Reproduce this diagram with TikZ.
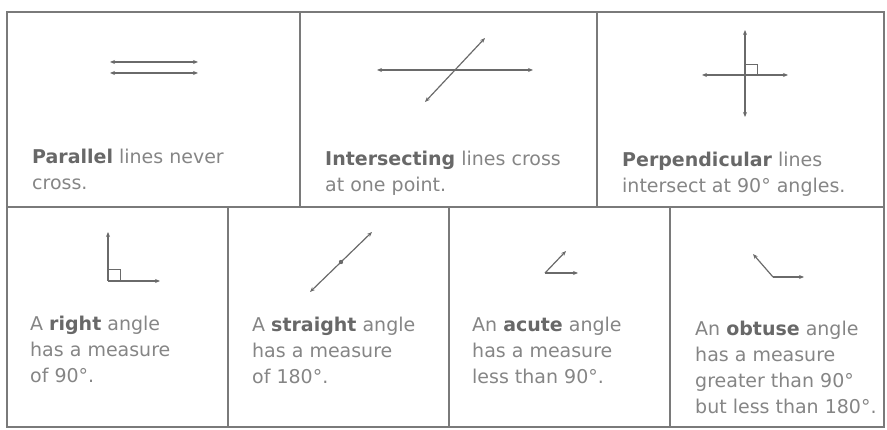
\documentclass[tikz,border=0pt]{standalone}
\usepackage{fontspec}
\setmainfont{DejaVu Sans}
\usepackage{xcolor}
\usetikzlibrary{arrows.meta}

\definecolor{rulegrey}{HTML}{7A7A7A}
\definecolor{inkgrey}{HTML}{6A6A6A}
\definecolor{txtgrey}{HTML}{858585}
\definecolor{keygrey}{HTML}{686868}
\newcommand{\kw}[1]{{\bfseries\color{keygrey}#1}}

\begin{document}
\begin{tikzpicture}[
        x=1pt, y=-1pt,
        frame/.style={draw=rulegrey, line width=1.4pt},
        ray/.style={draw=inkgrey, line width=1.2pt, -{Stealth[length=5pt,width=4pt]}},
        twoway/.style={draw=inkgrey, line width=1.2pt, {Stealth[length=5pt,width=4pt]}-{Stealth[length=5pt,width=4pt]}},
        anglemark/.style={draw=inkgrey, line width=0.8pt},
        caption/.style={anchor=north west, inner sep=0pt, align=left, text=txtgrey,
                        font={\fontsize{19}{26}\selectfont}}
    ]
    \useasboundingbox (0,0) rectangle (887,430);

    % ---- Frame ----
    \draw[frame] (7,12) rectangle (884,427);
    \draw[frame] (7,207) -- (884,207);
    \draw[frame] (300,12) -- (300,207);
    \draw[frame] (597,12) -- (597,207);
    \draw[frame] (228,207) -- (228,427);
    \draw[frame] (449,207) -- (449,427);
    \draw[frame] (670,207) -- (670,427);

    % ---- Parallel ----
    \draw[twoway] (110,62) -- (198,62);
    \draw[twoway] (110,73) -- (198,73);
    \node[caption] (partext) at (32,149) {\kw{Parallel} lines never\\cross.};

    % ---- Intersecting ----
    \coordinate (isleft) at (377,70);
    \coordinate (isright) at (533,70);
    \coordinate (islow) at (425,102);
    \coordinate (ishigh) at (485,38);
    \draw[twoway] (isleft) -- (isright);
    \draw[twoway] (islow) -- (ishigh);
    \node[caption] (intext) at (325,151) {\kw{Intersecting} lines cross\\at one point.};

    % ---- Perpendicular ----
    \coordinate (pcross) at (745,75);
    \draw[twoway] (702,75) -- (788,75);
    \draw[twoway] (745,30) -- (745,117);
    \draw[anglemark] (745,64) -- (757,64) -- (757,75);
    \node[caption] (perptext) at (622,152) {\kw{Perpendicular} lines\\intersect at 90° angles.};

    % ---- Right angle ----
    \coordinate (rvertex) at (108,281);
    \draw[ray] (rvertex) -- (108,232);
    \draw[ray] (rvertex) -- (160,281);
    \draw[anglemark] (108,269) -- (120,269) -- (120,281);
    \node[caption] (righttext) at (30,316) {A \kw{right} angle\\has a measure\\of 90°.};

    % ---- Straight angle ----
    \coordinate (svertex) at (341,262);
    \draw[twoway] (310,292) -- (372,232);
    \fill[inkgrey] (svertex) circle (2.2pt);
    \node[caption] (straighttext) at (252,317) {A \kw{straight} angle\\has a measure\\of 180°.};

    % ---- Acute angle ----
    \coordinate (avertex) at (545,273);
    \draw[ray] (avertex) -- (578,273);
    \draw[ray] (avertex) -- (566,251);
    \node[caption] (acutetext) at (472,317) {An \kw{acute} angle\\has a measure\\less than 90°.};

    % ---- Obtuse angle ----
    \coordinate (overtex) at (773,277);
    \draw[ray] (overtex) -- (804,277);
    \draw[ray] (overtex) -- (753,254);
    \node[caption] (obtusetext) at (695,321) {An \kw{obtuse} angle\\has a measure\\greater than 90°\\but less than 180°.};
\end{tikzpicture}
\end{document}
